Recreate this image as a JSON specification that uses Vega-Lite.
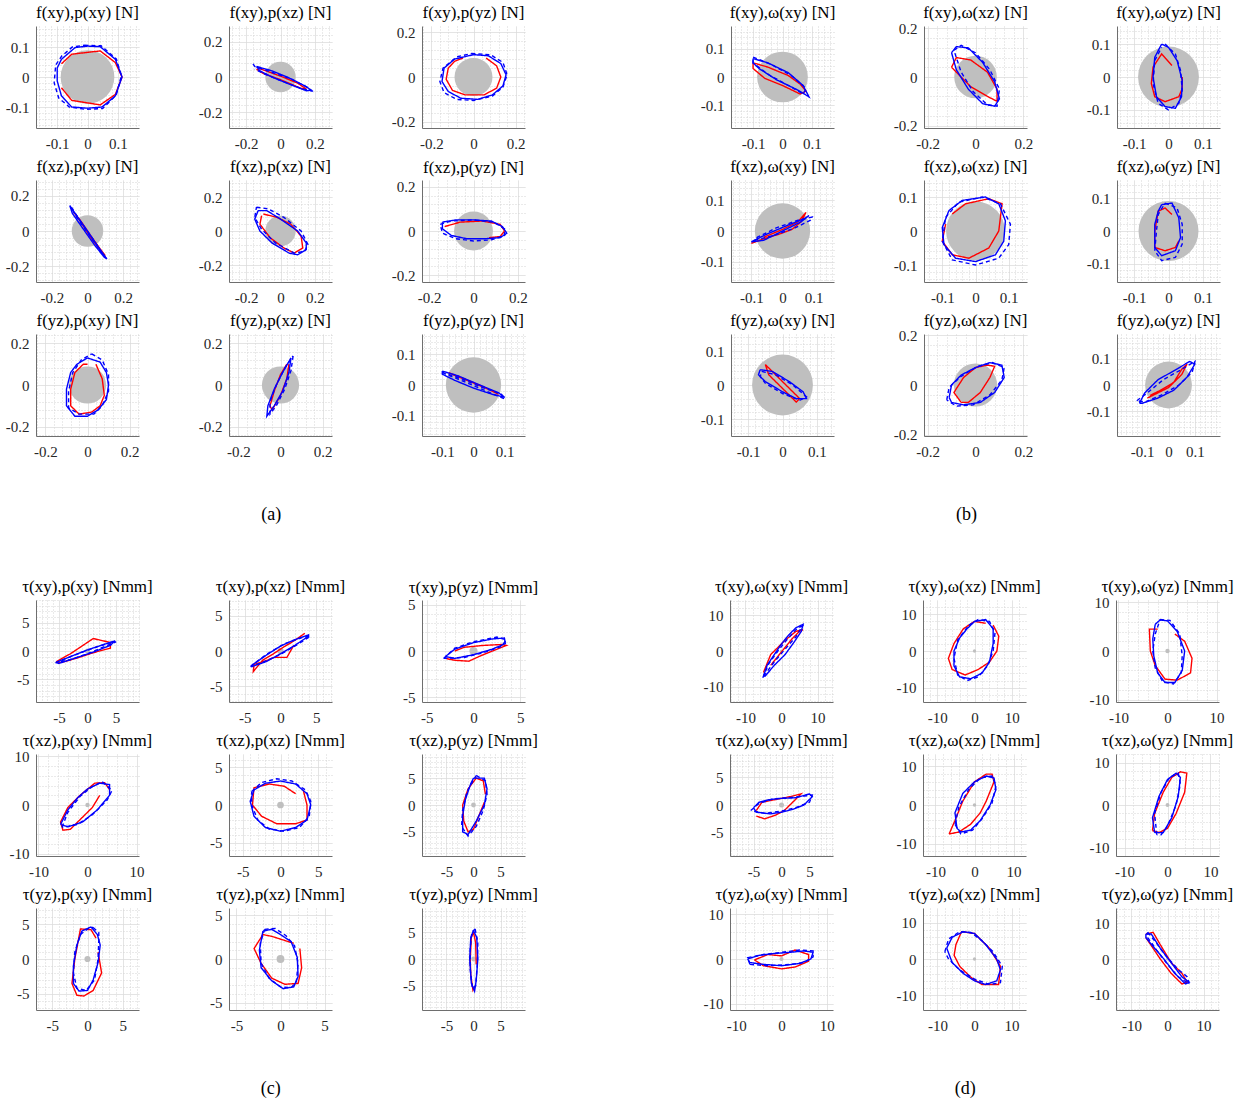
{
"$schema":"https://vega.github.io/schema/vega-lite/v6.json",
"background":"white",
"padding":{"left":5,"top":4,"right":5,"bottom":5},
"config":{
 "view":{"stroke":null,"continuousWidth":103,"continuousHeight":102},
 "font":"Liberation Serif",
 "title":{"font":"Liberation Serif","fontSize":17,"fontWeight":"normal","color":"#000000","offset":4},
 "axis":{"domainColor":"#6e6e6e","domainWidth":1,"ticks":false,"labelFont":"Liberation Serif","labelColor":"#262626","labelOverlap":false,"labelFlush":false,"labelBound":false,"grid":true,"gridWidth":1,
  "labelFontSize":{"condition":{"test":"indexof([-0.2,-0.1,0,0.1,0.2,-10,-5,5,10],datum.value)>=0","value":15},"value":0},
  "gridColor":{"condition":{"test":"indexof([-0.2,-0.1,0,0.1,0.2,-10,-5,5,10],datum.value)>=0","value":"#dadada"},"value":"#d4d4d4"},
  "gridDash":{"condition":{"test":"indexof([-0.2,-0.1,0,0.1,0.2,-10,-5,5,10],datum.value)>=0","value":[1,0]},"value":[1,2]},
  "labelExpr":"indexof([-0.2,-0.1,0,0.1,0.2,-10,-5,5,10],datum.value)>=0?''+datum.value:''"},
 "axisX":{"labelPadding":8},
 "axisY":{"labelPadding":7},
 "range":{"category":["#0000ff","#0000ff","#ff0000"]},
 "line":{"strokeWidth":1.4},
 "point":{"filled":true,"color":"#bfbfbf","opacity":1,"strokeWidth":0}
},
"datasets":{
"a11":[{"k":"r","x":-0.086,"y":0.044},{"k":"r","x":-0.052,"y":0.076},{"k":"r","x":0.042,"y":0.087},{"k":"r","x":0.092,"y":0.048},{"k":"r","x":0.114,"y":0},{"k":"r","x":0.092,"y":-0.058},{"k":"r","x":0.042,"y":-0.093},{"k":"r","x":-0.052,"y":-0.078},{"k":"r","x":-0.086,"y":-0.036},
{"k":"b","x":0,"y":0.103},{"k":"b","x":0.042,"y":0.101},{"k":"b","x":0.092,"y":0.059},{"k":"b","x":0.114,"y":0},{"k":"b","x":0.092,"y":-0.063},{"k":"b","x":0.048,"y":-0.1},{"k":"b","x":0,"y":-0.104},{"k":"b","x":-0.052,"y":-0.1},{"k":"b","x":-0.086,"y":-0.063},{"k":"b","x":-0.1,"y":-0.013},{"k":"b","x":-0.1,"y":0.03},{"k":"b","x":-0.086,"y":0.059},{"k":"b","x":-0.041,"y":0.098},{"k":"b","x":0,"y":0.103},
{"k":"d","x":-0.01,"y":0.106},{"k":"d","x":0.045,"y":0.104},{"k":"d","x":0.095,"y":0.06},{"k":"d","x":0.112,"y":0.005},{"k":"d","x":0.095,"y":-0.06},{"k":"d","x":0.05,"y":-0.105},{"k":"d","x":-0.005,"y":-0.108},{"k":"d","x":-0.06,"y":-0.1},{"k":"d","x":-0.095,"y":-0.07},{"k":"d","x":-0.11,"y":-0.02},{"k":"d","x":-0.105,"y":0.04},{"k":"d","x":-0.085,"y":0.07},{"k":"d","x":-0.05,"y":0.1},{"k":"d","x":-0.01,"y":0.106}],
"a12":[{"k":"r","x":-0.14,"y":0.045},{"k":"r","x":-0.1,"y":0.02},{"k":"r","x":0,"y":-0.015},{"k":"r","x":0.12,"y":-0.065},{"k":"r","x":0.15,"y":-0.068},{"k":"r","x":0.1,"y":-0.035},{"k":"r","x":0,"y":0.005},{"k":"r","x":-0.1,"y":0.04},{"k":"r","x":-0.13,"y":0.05},
{"k":"b","x":-0.14,"y":0.06},{"k":"b","x":-0.05,"y":0.035},{"k":"b","x":0.05,"y":-0.005},{"k":"b","x":0.14,"y":-0.05},{"k":"b","x":0.18,"y":-0.075},{"k":"b","x":0.15,"y":-0.078},{"k":"b","x":0.05,"y":-0.04},{"k":"b","x":-0.05,"y":0},{"k":"b","x":-0.12,"y":0.035},{"k":"b","x":-0.14,"y":0.06},
{"k":"d","x":-0.16,"y":0.075},{"k":"d","x":-0.15,"y":0.06},{"k":"d","x":-0.06,"y":0.03},{"k":"d","x":0.06,"y":-0.01},{"k":"d","x":0.16,"y":-0.06},{"k":"d","x":0.18,"y":-0.08},{"k":"d","x":0.12,"y":-0.065},{"k":"d","x":0,"y":-0.02},{"k":"d","x":-0.1,"y":0.02},{"k":"d","x":-0.15,"y":0.045}],
"a13":[{"k":"r","x":-0.05,"y":0.085},{"k":"r","x":-0.09,"y":0.07},{"k":"r","x":-0.12,"y":0.04},{"k":"r","x":-0.13,"y":-0.01},{"k":"r","x":-0.1,"y":-0.06},{"k":"r","x":-0.04,"y":-0.08},{"k":"r","x":0.05,"y":-0.08},{"k":"r","x":0.11,"y":-0.05},{"k":"r","x":0.13,"y":0},{"k":"r","x":0.11,"y":0.05},{"k":"r","x":0.06,"y":0.085},
{"k":"b","x":0,"y":0.1},{"k":"b","x":0.07,"y":0.095},{"k":"b","x":0.13,"y":0.06},{"k":"b","x":0.155,"y":0.01},{"k":"b","x":0.14,"y":-0.04},{"k":"b","x":0.09,"y":-0.08},{"k":"b","x":0.02,"y":-0.1},{"k":"b","x":-0.06,"y":-0.095},{"k":"b","x":-0.12,"y":-0.065},{"k":"b","x":-0.15,"y":-0.02},{"k":"b","x":-0.14,"y":0.04},{"k":"b","x":-0.09,"y":0.08},{"k":"b","x":0,"y":0.1},
{"k":"d","x":-0.01,"y":0.105},{"k":"d","x":0.08,"y":0.1},{"k":"d","x":0.14,"y":0.065},{"k":"d","x":0.16,"y":0.01},{"k":"d","x":0.14,"y":-0.045},{"k":"d","x":0.09,"y":-0.085},{"k":"d","x":0,"y":-0.105},{"k":"d","x":-0.08,"y":-0.1},{"k":"d","x":-0.14,"y":-0.07},{"k":"d","x":-0.16,"y":-0.02},{"k":"d","x":-0.145,"y":0.04},{"k":"d","x":-0.08,"y":0.09},{"k":"d","x":-0.01,"y":0.105}],
"a21":[{"k":"r","x":-0.08,"y":0.11},{"k":"r","x":-0.04,"y":0.06},{"k":"r","x":0.02,"y":-0.03},{"k":"r","x":0.07,"y":-0.1},{"k":"r","x":0.1,"y":-0.14},{"k":"r","x":0.08,"y":-0.12},{"k":"r","x":0.02,"y":-0.04},{"k":"r","x":-0.05,"y":0.07},{"k":"r","x":-0.08,"y":0.11},
{"k":"b","x":-0.1,"y":0.145},{"k":"b","x":-0.07,"y":0.1},{"k":"b","x":0,"y":0},{"k":"b","x":0.06,"y":-0.09},{"k":"b","x":0.105,"y":-0.155},{"k":"b","x":0.095,"y":-0.15},{"k":"b","x":0.04,"y":-0.08},{"k":"b","x":-0.03,"y":0.02},{"k":"b","x":-0.085,"y":0.1},{"k":"b","x":-0.1,"y":0.145},
{"k":"d","x":-0.09,"y":0.135},{"k":"d","x":-0.05,"y":0.07},{"k":"d","x":0.02,"y":-0.03},{"k":"d","x":0.08,"y":-0.12},{"k":"d","x":0.11,"y":-0.16},{"k":"d","x":0.08,"y":-0.12},{"k":"d","x":0,"y":-0.01},{"k":"d","x":-0.07,"y":0.09},{"k":"d","x":-0.09,"y":0.135}],
"a22":[{"k":"r","x":-0.1,"y":0.1},{"k":"r","x":-0.02,"y":0.08},{"k":"r","x":0.06,"y":0.04},{"k":"r","x":0.12,"y":-0.03},{"k":"r","x":0.13,"y":-0.1},{"k":"r","x":0.08,"y":-0.13},{"k":"r","x":0.02,"y":-0.1},{"k":"r","x":-0.06,"y":-0.04},{"k":"r","x":-0.12,"y":0.04},{"k":"r","x":-0.11,"y":0.09},
{"k":"b","x":-0.13,"y":0.12},{"k":"b","x":-0.08,"y":0.12},{"k":"b","x":0,"y":0.07},{"k":"b","x":0.1,"y":0},{"k":"b","x":0.15,"y":-0.07},{"k":"b","x":0.15,"y":-0.11},{"k":"b","x":0.1,"y":-0.14},{"k":"b","x":0.05,"y":-0.13},{"k":"b","x":-0.05,"y":-0.07},{"k":"b","x":-0.12,"y":0},{"k":"b","x":-0.15,"y":0.07},{"k":"b","x":-0.13,"y":0.12},
{"k":"d","x":-0.14,"y":0.14},{"k":"d","x":-0.07,"y":0.13},{"k":"d","x":0.02,"y":0.08},{"k":"d","x":0.12,"y":0},{"k":"d","x":0.16,"y":-0.08},{"k":"d","x":0.14,"y":-0.12},{"k":"d","x":0.08,"y":-0.13},{"k":"d","x":-0.03,"y":-0.07},{"k":"d","x":-0.11,"y":0.01},{"k":"d","x":-0.15,"y":0.08},{"k":"d","x":-0.14,"y":0.14}],
"a23":[{"k":"r","x":-0.13,"y":0.02},{"k":"r","x":-0.06,"y":0.04},{"k":"r","x":0.04,"y":0.045},{"k":"r","x":0.12,"y":0.03},{"k":"r","x":0.14,"y":0},{"k":"r","x":0.12,"y":-0.025},{"k":"r","x":0.07,"y":-0.03},
{"k":"b","x":-0.14,"y":0.04},{"k":"b","x":-0.08,"y":0.05},{"k":"b","x":0,"y":0.05},{"k":"b","x":0.08,"y":0.045},{"k":"b","x":0.13,"y":0.02},{"k":"b","x":0.15,"y":-0.01},{"k":"b","x":0.12,"y":-0.03},{"k":"b","x":0.05,"y":-0.035},{"k":"b","x":-0.03,"y":-0.035},{"k":"b","x":-0.1,"y":-0.02},{"k":"b","x":-0.14,"y":0.01},{"k":"b","x":-0.14,"y":0.04},
{"k":"d","x":-0.15,"y":0.03},{"k":"d","x":-0.1,"y":0.045},{"k":"d","x":0,"y":0.05},{"k":"d","x":0.09,"y":0.04},{"k":"d","x":0.14,"y":0.01},{"k":"d","x":0.14,"y":-0.02},{"k":"d","x":0.08,"y":-0.04},{"k":"d","x":0,"y":-0.045},{"k":"d","x":-0.08,"y":-0.035},{"k":"d","x":-0.14,"y":-0.01},{"k":"d","x":-0.15,"y":0.03}],
"a31":[{"k":"r","x":0.04,"y":0.1},{"k":"r","x":0.07,"y":0.03},{"k":"r","x":0.08,"y":-0.05},{"k":"r","x":0.06,"y":-0.1},{"k":"r","x":0.02,"y":-0.13},{"k":"r","x":-0.04,"y":-0.14},{"k":"r","x":-0.08,"y":-0.1},{"k":"r","x":-0.08,"y":-0.02},{"k":"r","x":-0.06,"y":0.06},{"k":"r","x":-0.02,"y":0.1},{"k":"r","x":0,"y":0.1},
{"k":"b","x":0,"y":0.13},{"k":"b","x":0.06,"y":0.11},{"k":"b","x":0.09,"y":0.06},{"k":"b","x":0.1,"y":0},{"k":"b","x":0.09,"y":-0.07},{"k":"b","x":0.05,"y":-0.12},{"k":"b","x":0,"y":-0.15},{"k":"b","x":-0.06,"y":-0.15},{"k":"b","x":-0.1,"y":-0.1},{"k":"b","x":-0.1,"y":-0.02},{"k":"b","x":-0.08,"y":0.06},{"k":"b","x":-0.05,"y":0.1},{"k":"b","x":0,"y":0.13},
{"k":"d","x":0.02,"y":0.15},{"k":"d","x":0.07,"y":0.12},{"k":"d","x":0.1,"y":0.05},{"k":"d","x":0.1,"y":-0.03},{"k":"d","x":0.07,"y":-0.1},{"k":"d","x":0.03,"y":-0.14},{"k":"d","x":-0.04,"y":-0.14},{"k":"d","x":-0.09,"y":-0.11},{"k":"d","x":-0.09,"y":-0.03},{"k":"d","x":-0.07,"y":0.06},{"k":"d","x":-0.03,"y":0.12},{"k":"d","x":0.02,"y":0.15}],
"a32":[{"k":"r","x":0.04,"y":0.1},{"k":"r","x":0.03,"y":0.03},{"k":"r","x":0,"y":-0.05},{"k":"r","x":-0.04,"y":-0.12},{"k":"r","x":-0.05,"y":-0.1},{"k":"r","x":-0.03,"y":-0.03},{"k":"r","x":0,"y":0.05},{"k":"r","x":0.03,"y":0.1},
{"k":"b","x":0.05,"y":0.13},{"k":"b","x":0.04,"y":0.06},{"k":"b","x":0.01,"y":-0.03},{"k":"b","x":-0.03,"y":-0.1},{"k":"b","x":-0.065,"y":-0.15},{"k":"b","x":-0.06,"y":-0.1},{"k":"b","x":-0.03,"y":-0.02},{"k":"b","x":0.01,"y":0.06},{"k":"b","x":0.05,"y":0.13},
{"k":"d","x":0.06,"y":0.14},{"k":"d","x":0.05,"y":0.07},{"k":"d","x":0.02,"y":-0.02},{"k":"d","x":-0.02,"y":-0.1},{"k":"d","x":-0.05,"y":-0.14},{"k":"d","x":-0.05,"y":-0.08},{"k":"d","x":-0.02,"y":0},{"k":"d","x":0.02,"y":0.08},{"k":"d","x":0.06,"y":0.14}],
"a33":[{"k":"r","x":-0.08,"y":0.04},{"k":"r","x":-0.03,"y":0.02},{"k":"r","x":0.03,"y":-0.005},{"k":"r","x":0.08,"y":-0.03},{"k":"r","x":0.05,"y":-0.015},{"k":"r","x":-0.02,"y":0.015},{"k":"r","x":-0.07,"y":0.035},
{"k":"b","x":-0.1,"y":0.045},{"k":"b","x":-0.05,"y":0.03},{"k":"b","x":0.02,"y":0},{"k":"b","x":0.08,"y":-0.025},{"k":"b","x":0.1,"y":-0.04},{"k":"b","x":0.06,"y":-0.03},{"k":"b","x":0,"y":-0.01},{"k":"b","x":-0.06,"y":0.015},{"k":"b","x":-0.1,"y":0.035},{"k":"b","x":-0.1,"y":0.045},
{"k":"d","x":-0.1,"y":0.04},{"k":"d","x":-0.04,"y":0.015},{"k":"d","x":0.03,"y":-0.015},{"k":"d","x":0.1,"y":-0.045},{"k":"d","x":0.09,"y":-0.03},{"k":"d","x":0.02,"y":-0.005},{"k":"d","x":-0.05,"y":0.025},{"k":"d","x":-0.1,"y":0.04}],
"b11":[{"k":"r","x":-0.1,"y":0.05},{"k":"r","x":-0.05,"y":0.035},{"k":"r","x":0.02,"y":0.005},{"k":"r","x":0.06,"y":-0.025},{"k":"r","x":0.08,"y":-0.05},{"k":"r","x":0.06,"y":-0.06},{"k":"r","x":0,"y":-0.03},{"k":"r","x":-0.06,"y":-0.005},{"k":"r","x":-0.1,"y":0.03},{"k":"r","x":-0.1,"y":0.05},
{"k":"b","x":-0.1,"y":0.065},{"k":"b","x":-0.05,"y":0.05},{"k":"b","x":0.02,"y":0.015},{"k":"b","x":0.07,"y":-0.03},{"k":"b","x":0.09,"y":-0.07},{"k":"b","x":0.05,"y":-0.045},{"k":"b","x":-0.02,"y":-0.01},{"k":"b","x":-0.08,"y":0.03},{"k":"b","x":-0.1,"y":0.05},{"k":"b","x":-0.1,"y":0.065},
{"k":"d","x":-0.1,"y":0.07},{"k":"d","x":-0.04,"y":0.045},{"k":"d","x":0.03,"y":0.005},{"k":"d","x":0.08,"y":-0.04},{"k":"d","x":0.07,"y":-0.06},{"k":"d","x":0.02,"y":-0.03},{"k":"d","x":-0.05,"y":0.01},{"k":"d","x":-0.1,"y":0.05},{"k":"d","x":-0.1,"y":0.07}],
"b12":[{"k":"r","x":-0.1,"y":0.04},{"k":"r","x":-0.08,"y":0.08},{"k":"r","x":-0.02,"y":0.07},{"k":"r","x":0.05,"y":0.02},{"k":"r","x":0.09,"y":-0.05},{"k":"r","x":0.09,"y":-0.1},{"k":"r","x":0.05,"y":-0.08},{"k":"r","x":-0.02,"y":-0.04},{"k":"r","x":-0.07,"y":0.01},{"k":"r","x":-0.1,"y":0.04},
{"k":"b","x":-0.1,"y":0.1},{"k":"b","x":-0.08,"y":0.125},{"k":"b","x":-0.03,"y":0.12},{"k":"b","x":0.03,"y":0.06},{"k":"b","x":0.08,"y":-0.02},{"k":"b","x":0.1,"y":-0.09},{"k":"b","x":0.08,"y":-0.12},{"k":"b","x":0.03,"y":-0.11},{"k":"b","x":-0.03,"y":-0.05},{"k":"b","x":-0.08,"y":0.03},{"k":"b","x":-0.1,"y":0.1},
{"k":"d","x":-0.09,"y":0.11},{"k":"d","x":-0.06,"y":0.13},{"k":"d","x":0,"y":0.1},{"k":"d","x":0.06,"y":0.03},{"k":"d","x":0.1,"y":-0.05},{"k":"d","x":0.09,"y":-0.12},{"k":"d","x":0.05,"y":-0.115},{"k":"d","x":-0.01,"y":-0.06},{"k":"d","x":-0.06,"y":0.02},{"k":"d","x":-0.09,"y":0.11}],
"b13":[{"k":"r","x":0.01,"y":0.035},{"k":"r","x":-0.02,"y":0.07},{"k":"r","x":-0.045,"y":0.03},{"k":"r","x":-0.05,"y":-0.02},{"k":"r","x":-0.04,"y":-0.06},{"k":"r","x":-0.01,"y":-0.075},{"k":"r","x":0.03,"y":-0.06},{"k":"r","x":0.04,"y":-0.035},{"k":"r","x":0.04,"y":0},
{"k":"b","x":-0.02,"y":0.1},{"k":"b","x":-0.04,"y":0.06},{"k":"b","x":-0.045,"y":0},{"k":"b","x":-0.035,"y":-0.06},{"k":"b","x":-0.01,"y":-0.09},{"k":"b","x":0.02,"y":-0.095},{"k":"b","x":0.038,"y":-0.06},{"k":"b","x":0.04,"y":-0.01},{"k":"b","x":0.025,"y":0.05},{"k":"b","x":0,"y":0.09},{"k":"b","x":-0.02,"y":0.1},
{"k":"d","x":-0.01,"y":0.1},{"k":"d","x":0.02,"y":0.07},{"k":"d","x":0.035,"y":0.02},{"k":"d","x":0.04,"y":-0.04},{"k":"d","x":0.03,"y":-0.08},{"k":"d","x":0,"y":-0.1},{"k":"d","x":-0.03,"y":-0.08},{"k":"d","x":-0.045,"y":-0.02},{"k":"d","x":-0.04,"y":0.05},{"k":"d","x":-0.02,"y":0.09}],
"b21":[{"k":"r","x":-0.1,"y":-0.04},{"k":"r","x":-0.06,"y":-0.025},{"k":"r","x":-0.01,"y":-0.01},{"k":"r","x":0.03,"y":0.005},{"k":"r","x":0.06,"y":0.03},{"k":"r","x":0.075,"y":0.06},{"k":"r","x":0.05,"y":0.03},{"k":"r","x":0,"y":0.005},{"k":"r","x":-0.06,"y":-0.02},
{"k":"b","x":-0.1,"y":-0.035},{"k":"b","x":-0.05,"y":-0.01},{"k":"b","x":0.02,"y":0.02},{"k":"b","x":0.07,"y":0.04},{"k":"b","x":0.085,"y":0.05},{"k":"b","x":0.06,"y":0.03},{"k":"b","x":0,"y":0},{"k":"b","x":-0.06,"y":-0.03},{"k":"b","x":-0.1,"y":-0.035},
{"k":"d","x":-0.09,"y":-0.03},{"k":"d","x":-0.03,"y":-0.015},{"k":"d","x":0.04,"y":0.01},{"k":"d","x":0.09,"y":0.035},{"k":"d","x":0.095,"y":0.045},{"k":"d","x":0.05,"y":0.035},{"k":"d","x":-0.02,"y":0.01},{"k":"d","x":-0.08,"y":-0.02},{"k":"d","x":-0.09,"y":-0.03}],
"b22":[{"k":"r","x":-0.07,"y":0.05},{"k":"r","x":-0.03,"y":0.08},{"k":"r","x":0.04,"y":0.095},{"k":"r","x":0.08,"y":0.08},{"k":"r","x":0.07,"y":0},{"k":"r","x":0.04,"y":-0.05},{"k":"r","x":-0.02,"y":-0.08},{"k":"r","x":-0.07,"y":-0.07},{"k":"r","x":-0.1,"y":-0.03},{"k":"r","x":-0.09,"y":0.02},
{"k":"b","x":-0.08,"y":0.06},{"k":"b","x":-0.04,"y":0.09},{"k":"b","x":0.03,"y":0.1},{"k":"b","x":0.07,"y":0.08},{"k":"b","x":0.09,"y":0.03},{"k":"b","x":0.085,"y":-0.03},{"k":"b","x":0.06,"y":-0.07},{"k":"b","x":0,"y":-0.09},{"k":"b","x":-0.06,"y":-0.08},{"k":"b","x":-0.095,"y":-0.04},{"k":"b","x":-0.1,"y":0.01},{"k":"b","x":-0.08,"y":0.06},
{"k":"d","x":-0.09,"y":0.04},{"k":"d","x":-0.05,"y":0.085},{"k":"d","x":0.02,"y":0.1},{"k":"d","x":0.075,"y":0.08},{"k":"d","x":0.105,"y":0.02},{"k":"d","x":0.1,"y":-0.04},{"k":"d","x":0.07,"y":-0.08},{"k":"d","x":0,"y":-0.1},{"k":"d","x":-0.07,"y":-0.085},{"k":"d","x":-0.1,"y":-0.03},{"k":"d","x":-0.09,"y":0.04}],
"b23":[{"k":"r","x":0.01,"y":0.05},{"k":"r","x":-0.01,"y":0.07},{"k":"r","x":-0.03,"y":0.06},{"k":"r","x":-0.04,"y":0},{"k":"r","x":-0.04,"y":-0.05},{"k":"r","x":-0.01,"y":-0.06},{"k":"r","x":0.02,"y":-0.05},{"k":"r","x":0.03,"y":-0.03},
{"k":"b","x":-0.02,"y":0.08},{"k":"b","x":0.01,"y":0.085},{"k":"b","x":0.03,"y":0.04},{"k":"b","x":0.035,"y":-0.02},{"k":"b","x":0.02,"y":-0.06},{"k":"b","x":-0.02,"y":-0.075},{"k":"b","x":-0.04,"y":-0.05},{"k":"b","x":-0.04,"y":0.02},{"k":"b","x":-0.03,"y":0.06},{"k":"b","x":-0.02,"y":0.08},
{"k":"d","x":-0.01,"y":0.085},{"k":"d","x":0.025,"y":0.07},{"k":"d","x":0.04,"y":0.02},{"k":"d","x":0.04,"y":-0.04},{"k":"d","x":0.02,"y":-0.08},{"k":"d","x":-0.02,"y":-0.09},{"k":"d","x":-0.04,"y":-0.06},{"k":"d","x":-0.035,"y":0},{"k":"d","x":-0.03,"y":0.05},{"k":"d","x":-0.01,"y":0.085}],
"b31":[{"k":"r","x":-0.05,"y":0.06},{"k":"r","x":-0.03,"y":0.04},{"k":"r","x":0.01,"y":0},{"k":"r","x":0.05,"y":-0.04},{"k":"r","x":0.04,"y":-0.05},{"k":"r","x":0,"y":-0.01},{"k":"r","x":-0.04,"y":0.03},{"k":"r","x":-0.05,"y":0.06},
{"k":"b","x":-0.065,"y":0.045},{"k":"b","x":-0.03,"y":0.04},{"k":"b","x":0.02,"y":0.01},{"k":"b","x":0.06,"y":-0.02},{"k":"b","x":0.07,"y":-0.04},{"k":"b","x":0.04,"y":-0.04},{"k":"b","x":0,"y":-0.02},{"k":"b","x":-0.05,"y":0.01},{"k":"b","x":-0.07,"y":0.03},{"k":"b","x":-0.065,"y":0.045},
{"k":"d","x":-0.06,"y":0.04},{"k":"d","x":-0.02,"y":0.03},{"k":"d","x":0.03,"y":0},{"k":"d","x":0.07,"y":-0.035},{"k":"d","x":0.05,"y":-0.045},{"k":"d","x":0,"y":-0.025},{"k":"d","x":-0.05,"y":0.005},{"k":"d","x":-0.065,"y":0.025},{"k":"d","x":-0.06,"y":0.04}],
"b32":[{"k":"r","x":-0.06,"y":-0.07},{"k":"r","x":-0.09,"y":-0.03},{"k":"r","x":-0.05,"y":0.03},{"k":"r","x":0,"y":0.07},{"k":"r","x":0.05,"y":0.08},{"k":"r","x":0.08,"y":0.075},{"k":"r","x":0.06,"y":0.03},{"k":"r","x":0.02,"y":-0.03},{"k":"r","x":-0.03,"y":-0.07},{"k":"r","x":-0.06,"y":-0.07},
{"k":"b","x":-0.11,"y":-0.05},{"k":"b","x":-0.1,"y":0},{"k":"b","x":-0.06,"y":0.04},{"k":"b","x":0,"y":0.07},{"k":"b","x":0.06,"y":0.09},{"k":"b","x":0.11,"y":0.08},{"k":"b","x":0.12,"y":0.03},{"k":"b","x":0.08,"y":-0.03},{"k":"b","x":0.02,"y":-0.07},{"k":"b","x":-0.05,"y":-0.08},{"k":"b","x":-0.1,"y":-0.07},{"k":"b","x":-0.11,"y":-0.05},
{"k":"d","x":-0.12,"y":-0.06},{"k":"d","x":-0.11,"y":-0.01},{"k":"d","x":-0.06,"y":0.035},{"k":"d","x":0.01,"y":0.075},{"k":"d","x":0.07,"y":0.09},{"k":"d","x":0.12,"y":0.07},{"k":"d","x":0.11,"y":0.02},{"k":"d","x":0.06,"y":-0.04},{"k":"d","x":-0.01,"y":-0.08},{"k":"d","x":-0.08,"y":-0.085},{"k":"d","x":-0.12,"y":-0.06}],
"b33":[{"k":"r","x":-0.07,"y":-0.04},{"k":"r","x":-0.03,"y":-0.02},{"k":"r","x":0.02,"y":0.01},{"k":"r","x":0.05,"y":0.06},{"k":"r","x":0.07,"y":0.08},{"k":"r","x":0.05,"y":0.04},{"k":"r","x":0,"y":-0.01},{"k":"r","x":-0.05,"y":-0.035},{"k":"r","x":-0.08,"y":-0.05},
{"k":"b","x":-0.11,"y":-0.07},{"k":"b","x":-0.09,"y":-0.03},{"k":"b","x":-0.04,"y":0.02},{"k":"b","x":0.03,"y":0.06},{"k":"b","x":0.08,"y":0.09},{"k":"b","x":0.1,"y":0.08},{"k":"b","x":0.07,"y":0.03},{"k":"b","x":0.02,"y":-0.02},{"k":"b","x":-0.04,"y":-0.05},{"k":"b","x":-0.1,"y":-0.07},{"k":"b","x":-0.11,"y":-0.07},
{"k":"d","x":-0.12,"y":-0.06},{"k":"d","x":-0.08,"y":-0.03},{"k":"d","x":-0.02,"y":0.02},{"k":"d","x":0.05,"y":0.06},{"k":"d","x":0.1,"y":0.09},{"k":"d","x":0.09,"y":0.05},{"k":"d","x":0.04,"y":0},{"k":"d","x":-0.03,"y":-0.04},{"k":"d","x":-0.09,"y":-0.065},{"k":"d","x":-0.12,"y":-0.06}],
"c11":[{"k":"r","x":-5.5,"y":-1.9},{"k":"r","x":-3,"y":-0.5},{"k":"r","x":1,"y":2.2},{"k":"r","x":4,"y":1.5},{"k":"r","x":4,"y":0.5},{"k":"r","x":1,"y":-0.3},{"k":"r","x":-2,"y":-1.3},{"k":"r","x":-4.5,"y":-2},{"k":"r","x":-5.5,"y":-2},
{"k":"b","x":-5.5,"y":-2},{"k":"b","x":-3,"y":-1},{"k":"b","x":0,"y":0.2},{"k":"b","x":3,"y":1.2},{"k":"b","x":4.8,"y":1.8},{"k":"b","x":4,"y":1},{"k":"b","x":1,"y":-0.2},{"k":"b","x":-2,"y":-1.2},{"k":"b","x":-5,"y":-2.2},{"k":"b","x":-5.5,"y":-2},
{"k":"d","x":-5.6,"y":-2.1},{"k":"d","x":-2.5,"y":-0.8},{"k":"d","x":1,"y":0.5},{"k":"d","x":4,"y":1.5},{"k":"d","x":5,"y":1.6},{"k":"d","x":3,"y":0.8},{"k":"d","x":0,"y":-0.5},{"k":"d","x":-3,"y":-1.5},{"k":"d","x":-5.6,"y":-2.1}],
"c12":[{"k":"r","x":3.4,"y":2.5},{"k":"r","x":2,"y":1.5},{"k":"r","x":0.5,"y":0.6},{"k":"r","x":-1,"y":-0.4},{"k":"r","x":-2.5,"y":-1.3},{"k":"r","x":-3.8,"y":-2.9},{"k":"r","x":-3.7,"y":-1.9},{"k":"r","x":-1.8,"y":-1.3},{"k":"r","x":-0.9,"y":-0.9},{"k":"r","x":0.9,"y":-0.9},{"k":"r","x":1.85,"y":0.8},
{"k":"b","x":-4,"y":-2},{"k":"b","x":-2,"y":-0.6},{"k":"b","x":0,"y":0.7},{"k":"b","x":2,"y":1.6},{"k":"b","x":4,"y":2.3},{"k":"b","x":3.5,"y":1.8},{"k":"b","x":2,"y":0.8},{"k":"b","x":0,"y":-0.4},{"k":"b","x":-2,"y":-1.5},{"k":"b","x":-4,"y":-2.2},{"k":"b","x":-4,"y":-2},
{"k":"d","x":-4.2,"y":-2.2},{"k":"d","x":-2,"y":-0.5},{"k":"d","x":0.5,"y":1},{"k":"d","x":3,"y":1.9},{"k":"d","x":4.2,"y":2.1},{"k":"d","x":2.5,"y":1},{"k":"d","x":0,"y":-0.5},{"k":"d","x":-2.5,"y":-1.6},{"k":"d","x":-4.2,"y":-2.2}],
"c13":[{"k":"r","x":-3,"y":-0.8},{"k":"r","x":-2,"y":-1},{"k":"r","x":-0.5,"y":-1.1},{"k":"r","x":0.8,"y":-0.5},{"k":"r","x":3.5,"y":0.6},{"k":"r","x":3,"y":0.7},{"k":"r","x":1,"y":0.6},{"k":"r","x":-1,"y":0.4},{"k":"r","x":-2,"y":0},
{"k":"b","x":-3,"y":-0.6},{"k":"b","x":-2,"y":0.2},{"k":"b","x":0,"y":0.9},{"k":"b","x":2,"y":1.3},{"k":"b","x":3.3,"y":1.4},{"k":"b","x":3.4,"y":0.8},{"k":"b","x":2,"y":0.2},{"k":"b","x":0,"y":-0.4},{"k":"b","x":-2,"y":-0.8},{"k":"b","x":-3,"y":-0.6},
{"k":"d","x":-3.2,"y":-0.8},{"k":"d","x":-2,"y":0.3},{"k":"d","x":0,"y":1},{"k":"d","x":2.5,"y":1.5},{"k":"d","x":3.5,"y":1.2},{"k":"d","x":3,"y":0.5},{"k":"d","x":1,"y":-0.2},{"k":"d","x":-1,"y":-0.7},{"k":"d","x":-3.2,"y":-0.8}],
"c21":[{"k":"r","x":2.5,"y":2},{"k":"r","x":1,"y":-0.5},{"k":"r","x":-1,"y":-2.5},{"k":"r","x":-3.5,"y":-5},{"k":"r","x":-5,"y":-5.2},{"k":"r","x":-5.5,"y":-3.5},{"k":"r","x":-4,"y":-0.5},{"k":"r","x":-1.5,"y":2},{"k":"r","x":1.5,"y":4.5},{"k":"r","x":3.5,"y":4.6},{"k":"r","x":4.5,"y":3.2},
{"k":"b","x":-5.5,"y":-4},{"k":"b","x":-4,"y":-1},{"k":"b","x":-2,"y":1.5},{"k":"b","x":0,"y":3.3},{"k":"b","x":2.5,"y":4.5},{"k":"b","x":4.5,"y":4.2},{"k":"b","x":4.5,"y":2},{"k":"b","x":2,"y":-1},{"k":"b","x":-1,"y":-3.5},{"k":"b","x":-4,"y":-4.5},{"k":"b","x":-5.5,"y":-4},
{"k":"d","x":-5.2,"y":-4.6},{"k":"d","x":-4,"y":-1.5},{"k":"d","x":-1.5,"y":1.8},{"k":"d","x":1,"y":3.8},{"k":"d","x":3,"y":4.8},{"k":"d","x":5,"y":3},{"k":"d","x":4,"y":1},{"k":"d","x":1,"y":-2},{"k":"d","x":-2,"y":-4},{"k":"d","x":-5.2,"y":-4.6}],
"c22":[{"k":"r","x":2,"y":1.5},{"k":"r","x":0.5,"y":2.5},{"k":"r","x":-1.5,"y":2.8},{"k":"r","x":-3.5,"y":2.3},{"k":"r","x":-3.7,"y":0},{"k":"r","x":-2.5,"y":-1.5},{"k":"r","x":-0.5,"y":-2.5},{"k":"r","x":2,"y":-2.5},{"k":"r","x":3.5,"y":-2},{"k":"r","x":3.5,"y":0},{"k":"r","x":3,"y":2},
{"k":"b","x":-3.5,"y":2},{"k":"b","x":-2,"y":2.9},{"k":"b","x":0,"y":3.2},{"k":"b","x":2,"y":2.8},{"k":"b","x":3.5,"y":1.5},{"k":"b","x":4,"y":0},{"k":"b","x":3.5,"y":-2},{"k":"b","x":2,"y":-3},{"k":"b","x":0,"y":-3.5},{"k":"b","x":-2,"y":-3},{"k":"b","x":-3.5,"y":-1.5},{"k":"b","x":-4,"y":0.5},{"k":"b","x":-3.5,"y":2},
{"k":"d","x":-3.8,"y":1.8},{"k":"d","x":-2.5,"y":3},{"k":"d","x":-0.5,"y":3.5},{"k":"d","x":1.5,"y":3.2},{"k":"d","x":3.3,"y":2},{"k":"d","x":4,"y":0.5},{"k":"d","x":3.8,"y":-1.5},{"k":"d","x":2.5,"y":-3},{"k":"d","x":0.5,"y":-3.5},{"k":"d","x":-1.5,"y":-3.2},{"k":"d","x":-3,"y":-2},{"k":"d","x":-3.8,"y":0},{"k":"d","x":-3.8,"y":1.8}],
"c23":[{"k":"r","x":2.2,"y":2},{"k":"r","x":1.8,"y":4.5},{"k":"r","x":0.5,"y":5},{"k":"r","x":-1,"y":3},{"k":"r","x":-2,"y":0},{"k":"r","x":-1.8,"y":-3},{"k":"r","x":-1,"y":-5},{"k":"r","x":0,"y":-4.5},{"k":"r","x":1,"y":-2},{"k":"r","x":2,"y":0.5},
{"k":"b","x":0,"y":5},{"k":"b","x":2,"y":5},{"k":"b","x":2.5,"y":3},{"k":"b","x":2,"y":0},{"k":"b","x":0.5,"y":-3},{"k":"b","x":-1,"y":-5.5},{"k":"b","x":-2,"y":-5},{"k":"b","x":-2,"y":-2},{"k":"b","x":-1.5,"y":1},{"k":"b","x":-0.5,"y":4},{"k":"b","x":0,"y":5},
{"k":"d","x":0.5,"y":5.5},{"k":"d","x":2.2,"y":4.5},{"k":"d","x":2.5,"y":2},{"k":"d","x":1.8,"y":-1},{"k":"d","x":0.5,"y":-4},{"k":"d","x":-1,"y":-5.8},{"k":"d","x":-2.2,"y":-4},{"k":"d","x":-2,"y":-1},{"k":"d","x":-1.2,"y":2.5},{"k":"d","x":0.5,"y":5.5}],
"c31":[{"k":"r","x":1.2,"y":3},{"k":"r","x":0.5,"y":4.2},{"k":"r","x":-1,"y":4.3},{"k":"r","x":-1.8,"y":0},{"k":"r","x":-2.2,"y":-3.5},{"k":"r","x":-1.5,"y":-5.2},{"k":"r","x":-0.5,"y":-5.3},{"k":"r","x":0.8,"y":-4.5},{"k":"r","x":2,"y":-2},{"k":"r","x":1.5,"y":1},
{"k":"b","x":0.5,"y":4.6},{"k":"b","x":-0.8,"y":4},{"k":"b","x":-1.5,"y":2},{"k":"b","x":-2,"y":-1},{"k":"b","x":-2,"y":-3.5},{"k":"b","x":-1.2,"y":-4.6},{"k":"b","x":0,"y":-4.5},{"k":"b","x":0.8,"y":-3},{"k":"b","x":1.5,"y":-0.5},{"k":"b","x":1.8,"y":2},{"k":"b","x":1.4,"y":3.5},{"k":"b","x":0.5,"y":4.6},
{"k":"d","x":0.8,"y":4.5},{"k":"d","x":1.6,"y":3.8},{"k":"d","x":1.6,"y":2.8},{"k":"d","x":1.5,"y":0},{"k":"d","x":1,"y":-3},{"k":"d","x":-0.2,"y":-4.5},{"k":"d","x":-1.5,"y":-4.2},{"k":"d","x":-2,"y":-2},{"k":"d","x":-1.8,"y":1},{"k":"d","x":-1,"y":3.5},{"k":"d","x":0.3,"y":4.5},{"k":"d","x":0.8,"y":4.5}],
"c32":[{"k":"r","x":2.2,"y":1.2},{"k":"r","x":2.4,"y":-1},{"k":"r","x":2,"y":-2.8},{"k":"r","x":0.5,"y":-2.9},{"k":"r","x":-1,"y":-2.2},{"k":"r","x":-2.2,"y":-0.5},{"k":"r","x":-3,"y":1.2},{"k":"r","x":-2,"y":2.8},{"k":"r","x":-1,"y":2.6},{"k":"r","x":1.5,"y":1.8},
{"k":"b","x":-2,"y":3.2},{"k":"b","x":-1,"y":3.4},{"k":"b","x":0,"y":2.8},{"k":"b","x":1.2,"y":2},{"k":"b","x":1.9,"y":0.2},{"k":"b","x":2,"y":-2},{"k":"b","x":1.5,"y":-3.2},{"k":"b","x":0.3,"y":-3.4},{"k":"b","x":-1,"y":-2.5},{"k":"b","x":-2.2,"y":-1},{"k":"b","x":-2.4,"y":1},{"k":"b","x":-2,"y":3.2},
{"k":"d","x":-1.8,"y":3.4},{"k":"d","x":-0.6,"y":3.5},{"k":"d","x":0.6,"y":2.7},{"k":"d","x":1.6,"y":1.5},{"k":"d","x":2,"y":-0.5},{"k":"d","x":1.8,"y":-2.6},{"k":"d","x":1.2,"y":-3.3},{"k":"d","x":0,"y":-3.2},{"k":"d","x":-1.3,"y":-2.2},{"k":"d","x":-2.2,"y":-0.5},{"k":"d","x":-2.3,"y":1.8},{"k":"d","x":-1.8,"y":3.4}],
"c33":[{"k":"r","x":0.5,"y":-1},{"k":"r","x":0.4,"y":3},{"k":"r","x":0,"y":5},{"k":"r","x":-0.4,"y":4},{"k":"r","x":-0.6,"y":0},{"k":"r","x":-0.5,"y":-3},{"k":"r","x":-0.1,"y":-5.8},{"k":"r","x":0.3,"y":-5},
{"k":"b","x":0,"y":5.3},{"k":"b","x":0.6,"y":4},{"k":"b","x":0.8,"y":0},{"k":"b","x":0.5,"y":-4},{"k":"b","x":0.2,"y":-6},{"k":"b","x":-0.4,"y":-4.5},{"k":"b","x":-0.7,"y":0},{"k":"b","x":-0.5,"y":4},{"k":"b","x":0,"y":5.3},
{"k":"d","x":0.3,"y":5.6},{"k":"d","x":0.8,"y":3},{"k":"d","x":0.7,"y":-1},{"k":"d","x":0.4,"y":-5},{"k":"d","x":-0.2,"y":-5.5},{"k":"d","x":-0.6,"y":-2},{"k":"d","x":-0.6,"y":2},{"k":"d","x":-0.3,"y":5},{"k":"d","x":0.3,"y":5.6}],
"d11":[{"k":"r","x":-5,"y":-6},{"k":"r","x":-3,"y":-1},{"k":"r","x":-1,"y":1},{"k":"r","x":1,"y":3},{"k":"r","x":4,"y":5.5},{"k":"r","x":6,"y":6},{"k":"r","x":5,"y":5.5},{"k":"r","x":3,"y":3.5},{"k":"r","x":1,"y":1},{"k":"r","x":-1,"y":-1.5},{"k":"r","x":-3,"y":-4},
{"k":"b","x":-5,"y":-7},{"k":"b","x":-4,"y":-4},{"k":"b","x":-2,"y":-1},{"k":"b","x":0,"y":2},{"k":"b","x":2,"y":4.5},{"k":"b","x":4,"y":6.5},{"k":"b","x":6,"y":7.5},{"k":"b","x":5.5,"y":5.5},{"k":"b","x":3.5,"y":2.5},{"k":"b","x":1,"y":-1},{"k":"b","x":-2,"y":-4},{"k":"b","x":-4.5,"y":-7},{"k":"b","x":-5,"y":-7},
{"k":"d","x":-5.2,"y":-7.5},{"k":"d","x":-3.5,"y":-3.5},{"k":"d","x":-1,"y":0},{"k":"d","x":2,"y":3.8},{"k":"d","x":4.5,"y":6.5},{"k":"d","x":5.8,"y":7},{"k":"d","x":4,"y":4},{"k":"d","x":1,"y":0.5},{"k":"d","x":-2,"y":-3},{"k":"d","x":-4.5,"y":-6.5},{"k":"d","x":-5.2,"y":-7.5}],
"d12":[{"k":"r","x":3,"y":7.5},{"k":"r","x":0,"y":8},{"k":"r","x":-3,"y":6},{"k":"r","x":-5.5,"y":2},{"k":"r","x":-7,"y":-2},{"k":"r","x":-6,"y":-5},{"k":"r","x":-2.5,"y":-6.5},{"k":"r","x":1,"y":-5},{"k":"r","x":4,"y":-3},{"k":"r","x":6,"y":0},{"k":"r","x":6.5,"y":4},{"k":"r","x":5,"y":7},
{"k":"b","x":-2,"y":6},{"k":"b","x":0,"y":8},{"k":"b","x":3,"y":8.5},{"k":"b","x":5,"y":6},{"k":"b","x":5,"y":2},{"k":"b","x":4,"y":-3},{"k":"b","x":2,"y":-6},{"k":"b","x":-1,"y":-7.5},{"k":"b","x":-4,"y":-7},{"k":"b","x":-5.5,"y":-4},{"k":"b","x":-5.5,"y":0},{"k":"b","x":-4,"y":3.5},{"k":"b","x":-2,"y":6},
{"k":"d","x":-1.5,"y":7},{"k":"d","x":1,"y":8.5},{"k":"d","x":4,"y":8},{"k":"d","x":5.5,"y":5},{"k":"d","x":5,"y":0},{"k":"d","x":3.5,"y":-4},{"k":"d","x":1,"y":-7},{"k":"d","x":-2,"y":-8},{"k":"d","x":-4.5,"y":-6.5},{"k":"d","x":-5.5,"y":-2},{"k":"d","x":-4.5,"y":3},{"k":"d","x":-1.5,"y":7}],
"d13":[{"k":"r","x":1.5,"y":3.5},{"k":"r","x":3.5,"y":2},{"k":"r","x":5,"y":-1.5},{"k":"r","x":4.7,"y":-4.5},{"k":"r","x":2,"y":-6},{"k":"r","x":-0.5,"y":-5.8},{"k":"r","x":-2.5,"y":-3},{"k":"r","x":-3.5,"y":0},{"k":"r","x":-3.7,"y":4.5},{"k":"r","x":-2,"y":4.5},
{"k":"b","x":-2.5,"y":5.5},{"k":"b","x":-1.5,"y":6.4},{"k":"b","x":0,"y":6.2},{"k":"b","x":2,"y":4},{"k":"b","x":3.5,"y":0},{"k":"b","x":3,"y":-4},{"k":"b","x":1.5,"y":-6.5},{"k":"b","x":-0.5,"y":-6.5},{"k":"b","x":-2,"y":-4.5},{"k":"b","x":-2.8,"y":-1},{"k":"b","x":-3,"y":2.5},{"k":"b","x":-2.5,"y":5.5},
{"k":"d","x":-1.5,"y":6.5},{"k":"d","x":0.5,"y":6.3},{"k":"d","x":2.5,"y":3.5},{"k":"d","x":3,"y":-1},{"k":"d","x":2.8,"y":-4.5},{"k":"d","x":1.2,"y":-6.8},{"k":"d","x":-1,"y":-6.3},{"k":"d","x":-2.5,"y":-3.5},{"k":"d","x":-3,"y":0},{"k":"d","x":-2.5,"y":3.5},{"k":"d","x":-1.5,"y":6.5}],
"d21":[{"k":"r","x":-4.5,"y":-1},{"k":"r","x":-3.5,"y":0.5},{"k":"r","x":-1,"y":1},{"k":"r","x":1.5,"y":1.5},{"k":"r","x":3.5,"y":2},{"k":"r","x":2.5,"y":1},{"k":"r","x":0.5,"y":-1},{"k":"r","x":-1,"y":-1.8},{"k":"r","x":-3,"y":-2.5},{"k":"r","x":-4.5,"y":-2},
{"k":"b","x":-5,"y":-0.5},{"k":"b","x":-4,"y":0.5},{"k":"b","x":-2,"y":1},{"k":"b","x":0,"y":1.2},{"k":"b","x":2.5,"y":1.3},{"k":"b","x":5,"y":2},{"k":"b","x":5.5,"y":1.5},{"k":"b","x":4,"y":0},{"k":"b","x":2,"y":-0.8},{"k":"b","x":0,"y":-1.3},{"k":"b","x":-2,"y":-1.6},{"k":"b","x":-4.5,"y":-1.3},{"k":"b","x":-5,"y":-0.5},
{"k":"d","x":-5.5,"y":-1},{"k":"d","x":-4,"y":0.3},{"k":"d","x":-1.5,"y":1.1},{"k":"d","x":1,"y":1.3},{"k":"d","x":4,"y":1.6},{"k":"d","x":5.5,"y":1.8},{"k":"d","x":5,"y":0.5},{"k":"d","x":2.5,"y":-0.5},{"k":"d","x":0,"y":-1.1},{"k":"d","x":-3,"y":-1.5},{"k":"d","x":-5.5,"y":-1}],
"d22":[{"k":"r","x":-6.5,"y":-7.5},{"k":"r","x":-4,"y":-7},{"k":"r","x":-1,"y":-5},{"k":"r","x":1.5,"y":-2},{"k":"r","x":3,"y":1},{"k":"r","x":5,"y":6},{"k":"r","x":4.5,"y":8},{"k":"r","x":3,"y":8},{"k":"r","x":0,"y":6},{"k":"r","x":-3,"y":1},{"k":"r","x":-5,"y":-4},{"k":"r","x":-6.5,"y":-7.5},
{"k":"b","x":-4.5,"y":-6},{"k":"b","x":-5,"y":-2},{"k":"b","x":-3,"y":3},{"k":"b","x":0,"y":6},{"k":"b","x":3,"y":7.5},{"k":"b","x":5,"y":7},{"k":"b","x":5.5,"y":4},{"k":"b","x":4,"y":0},{"k":"b","x":1.5,"y":-4},{"k":"b","x":-1,"y":-6.5},{"k":"b","x":-3.5,"y":-7},{"k":"b","x":-4.5,"y":-6},
{"k":"d","x":-5,"y":-5},{"k":"d","x":-4,"y":-0.5},{"k":"d","x":-1.5,"y":4},{"k":"d","x":1.5,"y":7},{"k":"d","x":4.5,"y":7.5},{"k":"d","x":5.5,"y":5},{"k":"d","x":4.5,"y":0.5},{"k":"d","x":2,"y":-3.5},{"k":"d","x":-0.5,"y":-6.5},{"k":"d","x":-3.5,"y":-7.5},{"k":"d","x":-5,"y":-5}],
"d23":[{"k":"r","x":-3.5,"y":-6},{"k":"r","x":-3,"y":-2},{"k":"r","x":-1,"y":3},{"k":"r","x":1,"y":6.5},{"k":"r","x":3,"y":7.8},{"k":"r","x":4.5,"y":7.5},{"k":"r","x":4,"y":3},{"k":"r","x":2,"y":-2},{"k":"r","x":0,"y":-5.5},{"k":"r","x":-2,"y":-6.5},{"k":"r","x":-3.5,"y":-6},
{"k":"b","x":-3,"y":-6.5},{"k":"b","x":-3.5,"y":-3},{"k":"b","x":-2,"y":2},{"k":"b","x":0,"y":6},{"k":"b","x":2,"y":7.5},{"k":"b","x":3,"y":6.5},{"k":"b","x":2.5,"y":2},{"k":"b","x":1,"y":-3},{"k":"b","x":-1,"y":-6.5},{"k":"b","x":-3,"y":-6.5},
{"k":"d","x":-2.5,"y":-7},{"k":"d","x":-3,"y":-2},{"k":"d","x":-1.5,"y":3},{"k":"d","x":0.5,"y":6.5},{"k":"d","x":2.5,"y":7.5},{"k":"d","x":3,"y":5},{"k":"d","x":2,"y":0},{"k":"d","x":0,"y":-5},{"k":"d","x":-1.5,"y":-7},{"k":"d","x":-2.5,"y":-7}],
"d31":[{"k":"r","x":-6,"y":-0.2},{"k":"r","x":-4,"y":-1.5},{"k":"r","x":0,"y":-2.2},{"k":"r","x":3,"y":-1.8},{"k":"r","x":6,"y":-0.5},{"k":"r","x":6,"y":1},{"k":"r","x":3,"y":2},{"k":"r","x":0,"y":0.7},{"k":"r","x":-3,"y":1},{"k":"r","x":-6,"y":-0.2},
{"k":"b","x":-7.5,"y":0},{"k":"b","x":-5,"y":0.8},{"k":"b","x":-2,"y":1.2},{"k":"b","x":2,"y":1.5},{"k":"b","x":5,"y":1.8},{"k":"b","x":7,"y":1.5},{"k":"b","x":6.5,"y":0},{"k":"b","x":4,"y":-1},{"k":"b","x":0,"y":-1.5},{"k":"b","x":-4,"y":-1.2},{"k":"b","x":-7,"y":-0.8},{"k":"b","x":-7.5,"y":0},
{"k":"d","x":-7,"y":-1.2},{"k":"d","x":-7.5,"y":0.3},{"k":"d","x":-4,"y":1},{"k":"d","x":0,"y":1.5},{"k":"d","x":4,"y":2},{"k":"d","x":7,"y":1.8},{"k":"d","x":7,"y":0.5},{"k":"d","x":5,"y":-0.8},{"k":"d","x":1,"y":-1.3},{"k":"d","x":-3,"y":-1.5},{"k":"d","x":-7,"y":-1.2}],
"d32":[{"k":"r","x":-5,"y":4},{"k":"r","x":-3.5,"y":7.5},{"k":"r","x":0,"y":7},{"k":"r","x":4,"y":3},{"k":"r","x":7,"y":-2},{"k":"r","x":6.5,"y":-7},{"k":"r","x":2,"y":-7},{"k":"r","x":-1,"y":-5},{"k":"r","x":-4,"y":-2},{"k":"r","x":-5.5,"y":1},{"k":"r","x":-5,"y":4},
{"k":"b","x":-7.5,"y":3},{"k":"b","x":-6,"y":6},{"k":"b","x":-3,"y":7.5},{"k":"b","x":0,"y":7},{"k":"b","x":3,"y":4},{"k":"b","x":6,"y":0},{"k":"b","x":7,"y":-3},{"k":"b","x":6,"y":-6},{"k":"b","x":3,"y":-7},{"k":"b","x":0,"y":-6},{"k":"b","x":-3,"y":-4},{"k":"b","x":-6,"y":-1},{"k":"b","x":-7.5,"y":3},
{"k":"d","x":-8,"y":2},{"k":"d","x":-7,"y":5.5},{"k":"d","x":-4,"y":7.5},{"k":"d","x":-1,"y":7.3},{"k":"d","x":2,"y":5},{"k":"d","x":5,"y":2},{"k":"d","x":7.5,"y":-2},{"k":"d","x":7,"y":-6.5},{"k":"d","x":4,"y":-7},{"k":"d","x":0,"y":-5.5},{"k":"d","x":-4,"y":-3},{"k":"d","x":-7,"y":0},{"k":"d","x":-8,"y":2}],
"d33":[{"k":"r","x":-6,"y":7},{"k":"r","x":-4,"y":7.5},{"k":"r","x":-2,"y":4},{"k":"r","x":1,"y":-1},{"k":"r","x":4,"y":-4},{"k":"r","x":5.5,"y":-6.5},{"k":"r","x":4,"y":-7},{"k":"r","x":1,"y":-4},{"k":"r","x":-2,"y":0},{"k":"r","x":-4,"y":3},{"k":"r","x":-6,"y":6},
{"k":"b","x":-6,"y":7},{"k":"b","x":-4.5,"y":7},{"k":"b","x":-2,"y":3},{"k":"b","x":1,"y":-1},{"k":"b","x":4,"y":-5},{"k":"b","x":6,"y":-6.5},{"k":"b","x":5,"y":-7},{"k":"b","x":2,"y":-4},{"k":"b","x":-1,"y":0},{"k":"b","x":-4,"y":3.5},{"k":"b","x":-6,"y":6},{"k":"b","x":-6,"y":7},
{"k":"d","x":-5.5,"y":7.5},{"k":"d","x":-3.5,"y":5},{"k":"d","x":-0.5,"y":1},{"k":"d","x":3,"y":-3},{"k":"d","x":5.5,"y":-5},{"k":"d","x":6,"y":-7},{"k":"d","x":3,"y":-5},{"k":"d","x":0,"y":-1.5},{"k":"d","x":-3,"y":2.5},{"k":"d","x":-5.5,"y":6},{"k":"d","x":-5.5,"y":7.5}]
},
"spacing":54,
"vconcat":[
{"spacing":172,"hconcat":[
{"title":{"text":"(a)","orient":"bottom","anchor":"middle","frame":"bounds","fontSize":18,"offset":47,"dx":5},"columns":3,"spacing":{"row":52,"column":90},"bounds":"flush","concat":[
{"title":"f(xy),p(xy) [N]","data":{"name":"a11"},"encoding":{"x":{"field":"x","type":"quantitative","title":null,"scale":{"domain":[-0.17,0.17]},"axis":{"values":[-0.16,-0.14,-0.12,-0.1,-0.08,-0.06,-0.04,-0.02,0,0.02,0.04,0.06,0.08,0.1,0.12,0.14,0.16]}},"y":{"field":"y","type":"quantitative","title":null,"scale":{"domain":[-0.17,0.17]},"axis":{"values":[-0.16,-0.14,-0.12,-0.1,-0.08,-0.06,-0.04,-0.02,0,0.02,0.04,0.06,0.08,0.1,0.12,0.14,0.16]}}},"layer":[{"data":{"values":[{"x":0,"y":0}]},"mark":{"type":"point","size":2884}},{"mark":"line","encoding":{"color":{"field":"k","type":"nominal","legend":null},"strokeDash":{"field":"k","type":"nominal","legend":null,"scale":{"range":[[1,0],[4,3],[1,0]]}},"order":{"value":null}}}]},
{"title":"f(xy),p(xz) [N]","data":{"name":"a12"},"encoding":{"x":{"field":"x","type":"quantitative","title":null,"scale":{"domain":[-0.3,0.3]},"axis":{"values":[-0.28,-0.24,-0.2,-0.16,-0.12,-0.08,-0.04,0,0.04,0.08,0.12,0.16,0.2,0.24,0.28]}},"y":{"field":"y","type":"quantitative","title":null,"scale":{"domain":[-0.29,0.29]},"axis":{"values":[-0.28,-0.24,-0.2,-0.16,-0.12,-0.08,-0.04,0,0.04,0.08,0.12,0.16,0.2,0.24,0.28]}}},"layer":[{"data":{"values":[{"x":0,"y":0}]},"mark":{"type":"point","size":926}},{"mark":"line","encoding":{"color":{"field":"k","type":"nominal","legend":null},"strokeDash":{"field":"k","type":"nominal","legend":null,"scale":{"range":[[1,0],[4,3],[1,0]]}},"order":{"value":null}}}]},
{"title":{"text":"f(xy),p(yz) [N]","offset":3},"data":{"name":"a13"},"encoding":{"x":{"field":"x","type":"quantitative","title":null,"scale":{"domain":[-0.245,0.245]},"axis":{"values":[-0.24,-0.2,-0.16,-0.12,-0.08,-0.04,0,0.04,0.08,0.12,0.16,0.2,0.24]}},"y":{"field":"y","type":"quantitative","title":null,"scale":{"domain":[-0.228,0.228]},"axis":{"values":[-0.2,-0.16,-0.12,-0.08,-0.04,0,0.04,0.08,0.12,0.16,0.2]}}},"layer":[{"data":{"values":[{"x":0,"y":0}]},"mark":{"type":"point","size":1440}},{"mark":"line","encoding":{"color":{"field":"k","type":"nominal","legend":null},"strokeDash":{"field":"k","type":"nominal","legend":null,"scale":{"range":[[1,0],[4,3],[1,0]]}},"order":{"value":null}}}]},
{"title":"f(xz),p(xy) [N]","data":{"name":"a21"},"encoding":{"x":{"field":"x","type":"quantitative","title":null,"scale":{"domain":[-0.29,0.29]},"axis":{"values":[-0.28,-0.24,-0.2,-0.16,-0.12,-0.08,-0.04,0,0.04,0.08,0.12,0.16,0.2,0.24,0.28]}},"y":{"field":"y","type":"quantitative","title":null,"scale":{"domain":[-0.29,0.29]},"axis":{"values":[-0.28,-0.24,-0.2,-0.16,-0.12,-0.08,-0.04,0,0.04,0.08,0.12,0.16,0.2,0.24,0.28]}}},"layer":[{"data":{"values":[{"x":0,"y":0}]},"mark":{"type":"point","size":991}},{"mark":"line","encoding":{"color":{"field":"k","type":"nominal","legend":null},"strokeDash":{"field":"k","type":"nominal","legend":null,"scale":{"range":[[1,0],[4,3],[1,0]]}},"order":{"value":null}}}]},
{"title":"f(xz),p(xz) [N]","data":{"name":"a22"},"encoding":{"x":{"field":"x","type":"quantitative","title":null,"scale":{"domain":[-0.3,0.3]},"axis":{"values":[-0.28,-0.24,-0.2,-0.16,-0.12,-0.08,-0.04,0,0.04,0.08,0.12,0.16,0.2,0.24,0.28]}},"y":{"field":"y","type":"quantitative","title":null,"scale":{"domain":[-0.3,0.3]},"axis":{"values":[-0.28,-0.24,-0.2,-0.16,-0.12,-0.08,-0.04,0,0.04,0.08,0.12,0.16,0.2,0.24,0.28]}}},"layer":[{"data":{"values":[{"x":0,"y":0}]},"mark":{"type":"point","size":926}},{"mark":"line","encoding":{"color":{"field":"k","type":"nominal","legend":null},"strokeDash":{"field":"k","type":"nominal","legend":null,"scale":{"range":[[1,0],[4,3],[1,0]]}},"order":{"value":null}}}]},
{"title":{"text":"f(xz),p(yz) [N]","offset":3},"data":{"name":"a23"},"encoding":{"x":{"field":"x","type":"quantitative","title":null,"scale":{"domain":[-0.232,0.232]},"axis":{"values":[-0.2,-0.16,-0.12,-0.08,-0.04,0,0.04,0.08,0.12,0.16,0.2]}},"y":{"field":"y","type":"quantitative","title":null,"scale":{"domain":[-0.23,0.23]},"axis":{"values":[-0.2,-0.16,-0.12,-0.08,-0.04,0,0.04,0.08,0.12,0.16,0.2]}}},"layer":[{"data":{"values":[{"x":0,"y":0}]},"mark":{"type":"point","size":1507}},{"mark":"line","encoding":{"color":{"field":"k","type":"nominal","legend":null},"strokeDash":{"field":"k","type":"nominal","legend":null,"scale":{"range":[[1,0],[4,3],[1,0]]}},"order":{"value":null}}}]},
{"title":"f(yz),p(xy) [N]","data":{"name":"a31"},"encoding":{"x":{"field":"x","type":"quantitative","title":null,"scale":{"domain":[-0.245,0.245]},"axis":{"values":[-0.24,-0.2,-0.16,-0.12,-0.08,-0.04,0,0.04,0.08,0.12,0.16,0.2,0.24]}},"y":{"field":"y","type":"quantitative","title":null,"scale":{"domain":[-0.245,0.245]},"axis":{"values":[-0.24,-0.2,-0.16,-0.12,-0.08,-0.04,0,0.04,0.08,0.12,0.16,0.2,0.24]}}},"layer":[{"data":{"values":[{"x":0,"y":0}]},"mark":{"type":"point","size":1385}},{"mark":"line","encoding":{"color":{"field":"k","type":"nominal","legend":null},"strokeDash":{"field":"k","type":"nominal","legend":null,"scale":{"range":[[1,0],[4,3],[1,0]]}},"order":{"value":null}}}]},
{"title":"f(yz),p(xz) [N]","data":{"name":"a32"},"encoding":{"x":{"field":"x","type":"quantitative","title":null,"scale":{"domain":[-0.245,0.245]},"axis":{"values":[-0.24,-0.2,-0.16,-0.12,-0.08,-0.04,0,0.04,0.08,0.12,0.16,0.2,0.24]}},"y":{"field":"y","type":"quantitative","title":null,"scale":{"domain":[-0.245,0.245]},"axis":{"values":[-0.24,-0.2,-0.16,-0.12,-0.08,-0.04,0,0.04,0.08,0.12,0.16,0.2,0.24]}}},"layer":[{"data":{"values":[{"x":0,"y":0}]},"mark":{"type":"point","size":1385}},{"mark":"line","encoding":{"color":{"field":"k","type":"nominal","legend":null},"strokeDash":{"field":"k","type":"nominal","legend":null,"scale":{"range":[[1,0],[4,3],[1,0]]}},"order":{"value":null}}}]},
{"title":"f(yz),p(yz) [N]","data":{"name":"a33"},"encoding":{"x":{"field":"x","type":"quantitative","title":null,"scale":{"domain":[-0.165,0.165]},"axis":{"values":[-0.16,-0.14,-0.12,-0.1,-0.08,-0.06,-0.04,-0.02,0,0.02,0.04,0.06,0.08,0.1,0.12,0.14,0.16]}},"y":{"field":"y","type":"quantitative","title":null,"scale":{"domain":[-0.165,0.165]},"axis":{"values":[-0.16,-0.14,-0.12,-0.1,-0.08,-0.06,-0.04,-0.02,0,0.02,0.04,0.06,0.08,0.1,0.12,0.14,0.16]}}},"layer":[{"data":{"values":[{"x":0,"y":0}]},"mark":{"type":"point","size":3058}},{"mark":"line","encoding":{"color":{"field":"k","type":"nominal","legend":null},"strokeDash":{"field":"k","type":"nominal","legend":null,"scale":{"range":[[1,0],[4,3],[1,0]]}},"order":{"value":null}}}]}
]},
{"title":{"text":"(b)","orient":"bottom","anchor":"middle","frame":"bounds","fontSize":18,"offset":47,"dx":6},"columns":3,"spacing":{"row":52,"column":90},"bounds":"flush","concat":[
{"title":"f(xy),ω(xy) [N]","data":{"name":"b11"},"encoding":{"x":{"field":"x","type":"quantitative","title":null,"scale":{"domain":[-0.175,0.175]},"axis":{"values":[-0.16,-0.14,-0.12,-0.1,-0.08,-0.06,-0.04,-0.02,0,0.02,0.04,0.06,0.08,0.1,0.12,0.14,0.16]}},"y":{"field":"y","type":"quantitative","title":null,"scale":{"domain":[-0.18,0.18]},"axis":{"values":[-0.16,-0.14,-0.12,-0.1,-0.08,-0.06,-0.04,-0.02,0,0.02,0.04,0.06,0.08,0.1,0.12,0.14,0.16]}}},"layer":[{"data":{"values":[{"x":0,"y":0}]},"mark":{"type":"point","size":2570}},{"mark":"line","encoding":{"color":{"field":"k","type":"nominal","legend":null},"strokeDash":{"field":"k","type":"nominal","legend":null,"scale":{"range":[[1,0],[4,3],[1,0]]}},"order":{"value":null}}}]},
{"title":{"text":"f(xy),ω(xz) [N]","offset":-1},"data":{"name":"b12"},"encoding":{"x":{"field":"x","type":"quantitative","title":null,"scale":{"domain":[-0.215,0.215]},"axis":{"values":[-0.2,-0.16,-0.12,-0.08,-0.04,0,0.04,0.08,0.12,0.16,0.2]}},"y":{"field":"y","type":"quantitative","title":null,"scale":{"domain":[-0.21,0.21]},"axis":{"values":[-0.2,-0.16,-0.12,-0.08,-0.04,0,0.04,0.08,0.12,0.16,0.2]}}},"layer":[{"data":{"values":[{"x":0,"y":0}]},"mark":{"type":"point","size":1810}},{"mark":"line","encoding":{"color":{"field":"k","type":"nominal","legend":null},"strokeDash":{"field":"k","type":"nominal","legend":null,"scale":{"range":[[1,0],[4,3],[1,0]]}},"order":{"value":null}}}]},
{"title":"f(xy),ω(yz) [N]","data":{"name":"b13"},"encoding":{"x":{"field":"x","type":"quantitative","title":null,"scale":{"domain":[-0.15,0.15]},"axis":{"values":[-0.14,-0.12,-0.1,-0.08,-0.06,-0.04,-0.02,0,0.02,0.04,0.06,0.08,0.1,0.12,0.14]}},"y":{"field":"y","type":"quantitative","title":null,"scale":{"domain":[-0.155,0.155]},"axis":{"values":[-0.14,-0.12,-0.1,-0.08,-0.06,-0.04,-0.02,0,0.02,0.04,0.06,0.08,0.1,0.12,0.14]}}},"layer":[{"data":{"values":[{"x":0,"y":0}]},"mark":{"type":"point","size":3700}},{"mark":"line","encoding":{"color":{"field":"k","type":"nominal","legend":null},"strokeDash":{"field":"k","type":"nominal","legend":null,"scale":{"range":[[1,0],[4,3],[1,0]]}},"order":{"value":null}}}]},
{"title":"f(xz),ω(xy) [N]","data":{"name":"b21"},"encoding":{"x":{"field":"x","type":"quantitative","title":null,"scale":{"domain":[-0.165,0.165]},"axis":{"values":[-0.16,-0.14,-0.12,-0.1,-0.08,-0.06,-0.04,-0.02,0,0.02,0.04,0.06,0.08,0.1,0.12,0.14,0.16]}},"y":{"field":"y","type":"quantitative","title":null,"scale":{"domain":[-0.165,0.165]},"axis":{"values":[-0.16,-0.14,-0.12,-0.1,-0.08,-0.06,-0.04,-0.02,0,0.02,0.04,0.06,0.08,0.1,0.12,0.14,0.16]}}},"layer":[{"data":{"values":[{"x":0,"y":0}]},"mark":{"type":"point","size":3058}},{"mark":"line","encoding":{"color":{"field":"k","type":"nominal","legend":null},"strokeDash":{"field":"k","type":"nominal","legend":null,"scale":{"range":[[1,0],[4,3],[1,0]]}},"order":{"value":null}}}]},
{"title":"f(xz),ω(xz) [N]","data":{"name":"b22"},"encoding":{"x":{"field":"x","type":"quantitative","title":null,"scale":{"domain":[-0.155,0.155]},"axis":{"values":[-0.14,-0.12,-0.1,-0.08,-0.06,-0.04,-0.02,0,0.02,0.04,0.06,0.08,0.1,0.12,0.14]}},"y":{"field":"y","type":"quantitative","title":null,"scale":{"domain":[-0.15,0.15]},"axis":{"values":[-0.14,-0.12,-0.1,-0.08,-0.06,-0.04,-0.02,0,0.02,0.04,0.06,0.08,0.1,0.12,0.14]}}},"layer":[{"data":{"values":[{"x":0,"y":0}]},"mark":{"type":"point","size":3460}},{"mark":"line","encoding":{"color":{"field":"k","type":"nominal","legend":null},"strokeDash":{"field":"k","type":"nominal","legend":null,"scale":{"range":[[1,0],[4,3],[1,0]]}},"order":{"value":null}}}]},
{"title":"f(xz),ω(yz) [N]","data":{"name":"b23"},"encoding":{"x":{"field":"x","type":"quantitative","title":null,"scale":{"domain":[-0.15,0.15]},"axis":{"values":[-0.14,-0.12,-0.1,-0.08,-0.06,-0.04,-0.02,0,0.02,0.04,0.06,0.08,0.1,0.12,0.14]}},"y":{"field":"y","type":"quantitative","title":null,"scale":{"domain":[-0.155,0.155]},"axis":{"values":[-0.14,-0.12,-0.1,-0.08,-0.06,-0.04,-0.02,0,0.02,0.04,0.06,0.08,0.1,0.12,0.14]}}},"layer":[{"data":{"values":[{"x":0,"y":0}]},"mark":{"type":"point","size":3600}},{"mark":"line","encoding":{"color":{"field":"k","type":"nominal","legend":null},"strokeDash":{"field":"k","type":"nominal","legend":null,"scale":{"range":[[1,0],[4,3],[1,0]]}},"order":{"value":null}}}]},
{"title":"f(yz),ω(xy) [N]","data":{"name":"b31"},"encoding":{"x":{"field":"x","type":"quantitative","title":null,"scale":{"domain":[-0.15,0.15]},"axis":{"values":[-0.14,-0.12,-0.1,-0.08,-0.06,-0.04,-0.02,0,0.02,0.04,0.06,0.08,0.1,0.12,0.14]}},"y":{"field":"y","type":"quantitative","title":null,"scale":{"domain":[-0.15,0.15]},"axis":{"values":[-0.14,-0.12,-0.1,-0.08,-0.06,-0.04,-0.02,0,0.02,0.04,0.06,0.08,0.1,0.12,0.14]}}},"layer":[{"data":{"values":[{"x":0,"y":0}]},"mark":{"type":"point","size":3700}},{"mark":"line","encoding":{"color":{"field":"k","type":"nominal","legend":null},"strokeDash":{"field":"k","type":"nominal","legend":null,"scale":{"range":[[1,0],[4,3],[1,0]]}},"order":{"value":null}}}]},
{"title":{"text":"f(yz),ω(xz) [N]","offset":-2},"data":{"name":"b32"},"encoding":{"x":{"field":"x","type":"quantitative","title":null,"scale":{"domain":[-0.215,0.215]},"axis":{"values":[-0.2,-0.16,-0.12,-0.08,-0.04,0,0.04,0.08,0.12,0.16,0.2]}},"y":{"field":"y","type":"quantitative","title":null,"scale":{"domain":[-0.205,0.205]},"axis":{"values":[-0.2,-0.16,-0.12,-0.08,-0.04,0,0.04,0.08,0.12,0.16,0.2]}}},"layer":[{"data":{"values":[{"x":0,"y":0}]},"mark":{"type":"point","size":1870}},{"mark":"line","encoding":{"color":{"field":"k","type":"nominal","legend":null},"strokeDash":{"field":"k","type":"nominal","legend":null,"scale":{"range":[[1,0],[4,3],[1,0]]}},"order":{"value":null}}}]},
{"title":"f(yz),ω(yz) [N]","data":{"name":"b33"},"encoding":{"x":{"field":"x","type":"quantitative","title":null,"scale":{"domain":[-0.195,0.195]},"axis":{"values":[-0.18,-0.16,-0.14,-0.12,-0.1,-0.08,-0.06,-0.04,-0.02,0,0.02,0.04,0.06,0.08,0.1,0.12,0.14,0.16,0.18]}},"y":{"field":"y","type":"quantitative","title":null,"scale":{"domain":[-0.195,0.195]},"axis":{"values":[-0.18,-0.16,-0.14,-0.12,-0.1,-0.08,-0.06,-0.04,-0.02,0,0.02,0.04,0.06,0.08,0.1,0.12,0.14,0.16,0.18]}}},"layer":[{"data":{"values":[{"x":0,"y":0}]},"mark":{"type":"point","size":2190}},{"mark":"line","encoding":{"color":{"field":"k","type":"nominal","legend":null},"strokeDash":{"field":"k","type":"nominal","legend":null,"scale":{"range":[[1,0],[4,3],[1,0]]}},"order":{"value":null}}}]}
]}
]},
{"spacing":164,"hconcat":[
{"title":{"text":"(c)","orient":"bottom","anchor":"middle","frame":"bounds","fontSize":18,"offset":47,"dx":-3},"columns":3,"spacing":{"row":52,"column":90},"bounds":"flush","concat":[
{"title":"τ(xy),p(xy) [Nmm]","data":{"name":"c11"},"encoding":{"x":{"field":"x","type":"quantitative","title":null,"scale":{"domain":[-9,9]},"axis":{"values":[-9,-8,-7,-6,-5,-4,-3,-2,-1,0,1,2,3,4,5,6,7,8,9]}},"y":{"field":"y","type":"quantitative","title":null,"scale":{"domain":[-9,9]},"axis":{"values":[-9,-8,-7,-6,-5,-4,-3,-2,-1,0,1,2,3,4,5,6,7,8,9]}}},"layer":[{"data":{"values":[{"x":0,"y":0}]},"mark":{"type":"point","size":26}},{"mark":"line","encoding":{"color":{"field":"k","type":"nominal","legend":null},"strokeDash":{"field":"k","type":"nominal","legend":null,"scale":{"range":[[1,0],[4,3],[1,0]]}},"order":{"value":null}}}]},
{"title":"τ(xy),p(xz) [Nmm]","data":{"name":"c12"},"encoding":{"x":{"field":"x","type":"quantitative","title":null,"scale":{"domain":[-7.2,7.2]},"axis":{"values":[-7,-6,-5,-4,-3,-2,-1,0,1,2,3,4,5,6,7]}},"y":{"field":"y","type":"quantitative","title":null,"scale":{"domain":[-7.2,7.2]},"axis":{"values":[-7,-6,-5,-4,-3,-2,-1,0,1,2,3,4,5,6,7]}}},"layer":[{"data":{"values":[{"x":0,"y":0}]},"mark":{"type":"point","size":40}},{"mark":"line","encoding":{"color":{"field":"k","type":"nominal","legend":null},"strokeDash":{"field":"k","type":"nominal","legend":null,"scale":{"range":[[1,0],[4,3],[1,0]]}},"order":{"value":null}}}]},
{"title":{"text":"τ(xy),p(yz) [Nmm]","offset":1},"data":{"name":"c13"},"encoding":{"x":{"field":"x","type":"quantitative","title":null,"scale":{"domain":[-5.5,5.5]},"axis":{"values":[-5,-4,-3,-2,-1,0,1,2,3,4,5]}},"y":{"field":"y","type":"quantitative","title":null,"scale":{"domain":[-5.5,5.5]},"axis":{"values":[-5,-4,-3,-2,-1,0,1,2,3,4,5]}}},"layer":[{"data":{"values":[{"x":0,"y":0}]},"mark":{"type":"point","size":68}},{"mark":"line","encoding":{"color":{"field":"k","type":"nominal","legend":null},"strokeDash":{"field":"k","type":"nominal","legend":null,"scale":{"range":[[1,0],[4,3],[1,0]]}},"order":{"value":null}}}]},
{"title":{"text":"τ(xz),p(xy) [Nmm]","offset":-1},"data":{"name":"c21"},"encoding":{"x":{"field":"x","type":"quantitative","title":null,"scale":{"domain":[-10.5,10.5]},"axis":{"values":[-10,-8,-6,-4,-2,0,2,4,6,8,10]}},"y":{"field":"y","type":"quantitative","title":null,"scale":{"domain":[-10.5,10.5]},"axis":{"values":[-10,-8,-6,-4,-2,0,2,4,6,8,10]}}},"layer":[{"data":{"values":[{"x":0,"y":0}]},"mark":{"type":"point","size":19}},{"mark":"line","encoding":{"color":{"field":"k","type":"nominal","legend":null},"strokeDash":{"field":"k","type":"nominal","legend":null,"scale":{"range":[[1,0],[4,3],[1,0]]}},"order":{"value":null}}}]},
{"title":"τ(xz),p(xz) [Nmm]","data":{"name":"c22"},"encoding":{"x":{"field":"x","type":"quantitative","title":null,"scale":{"domain":[-6.8,6.8]},"axis":{"values":[-6,-5,-4,-3,-2,-1,0,1,2,3,4,5,6]}},"y":{"field":"y","type":"quantitative","title":null,"scale":{"domain":[-6.8,6.8]},"axis":{"values":[-6,-5,-4,-3,-2,-1,0,1,2,3,4,5,6]}}},"layer":[{"data":{"values":[{"x":0,"y":0}]},"mark":{"type":"point","size":45}},{"mark":"line","encoding":{"color":{"field":"k","type":"nominal","legend":null},"strokeDash":{"field":"k","type":"nominal","legend":null,"scale":{"range":[[1,0],[4,3],[1,0]]}},"order":{"value":null}}}]},
{"title":"τ(xz),p(yz) [Nmm]","data":{"name":"c23"},"encoding":{"x":{"field":"x","type":"quantitative","title":null,"scale":{"domain":[-9.5,9.5]},"axis":{"values":[-9,-8,-7,-6,-5,-4,-3,-2,-1,0,1,2,3,4,5,6,7,8,9]}},"y":{"field":"y","type":"quantitative","title":null,"scale":{"domain":[-9.5,9.5]},"axis":{"values":[-9,-8,-7,-6,-5,-4,-3,-2,-1,0,1,2,3,4,5,6,7,8,9]}}},"layer":[{"data":{"values":[{"x":0,"y":0}]},"mark":{"type":"point","size":23}},{"mark":"line","encoding":{"color":{"field":"k","type":"nominal","legend":null},"strokeDash":{"field":"k","type":"nominal","legend":null,"scale":{"range":[[1,0],[4,3],[1,0]]}},"order":{"value":null}}}]},
{"title":"τ(yz),p(xy) [Nmm]","data":{"name":"c31"},"encoding":{"x":{"field":"x","type":"quantitative","title":null,"scale":{"domain":[-7.3,7.3]},"axis":{"values":[-7,-6,-5,-4,-3,-2,-1,0,1,2,3,4,5,6,7]}},"y":{"field":"y","type":"quantitative","title":null,"scale":{"domain":[-7.3,7.3]},"axis":{"values":[-7,-6,-5,-4,-3,-2,-1,0,1,2,3,4,5,6,7]}}},"layer":[{"data":{"values":[{"x":0,"y":0}]},"mark":{"type":"point","size":38}},{"mark":"line","encoding":{"color":{"field":"k","type":"nominal","legend":null},"strokeDash":{"field":"k","type":"nominal","legend":null,"scale":{"range":[[1,0],[4,3],[1,0]]}},"order":{"value":null}}}]},
{"title":"τ(yz),p(xz) [Nmm]","data":{"name":"c32"},"encoding":{"x":{"field":"x","type":"quantitative","title":null,"scale":{"domain":[-5.85,5.85]},"axis":{"values":[-5,-4,-3,-2,-1,0,1,2,3,4,5]}},"y":{"field":"y","type":"quantitative","title":null,"scale":{"domain":[-5.85,5.85]},"axis":{"values":[-5,-4,-3,-2,-1,0,1,2,3,4,5]}}},"layer":[{"data":{"values":[{"x":0,"y":0}]},"mark":{"type":"point","size":61}},{"mark":"line","encoding":{"color":{"field":"k","type":"nominal","legend":null},"strokeDash":{"field":"k","type":"nominal","legend":null,"scale":{"range":[[1,0],[4,3],[1,0]]}},"order":{"value":null}}}]},
{"title":"τ(yz),p(yz) [Nmm]","data":{"name":"c33"},"encoding":{"x":{"field":"x","type":"quantitative","title":null,"scale":{"domain":[-9.5,9.5]},"axis":{"values":[-9,-8,-7,-6,-5,-4,-3,-2,-1,0,1,2,3,4,5,6,7,8,9]}},"y":{"field":"y","type":"quantitative","title":null,"scale":{"domain":[-9.5,9.5]},"axis":{"values":[-9,-8,-7,-6,-5,-4,-3,-2,-1,0,1,2,3,4,5,6,7,8,9]}}},"layer":[{"data":{"values":[{"x":0,"y":0}]},"mark":{"type":"point","size":23}},{"mark":"line","encoding":{"color":{"field":"k","type":"nominal","legend":null},"strokeDash":{"field":"k","type":"nominal","legend":null,"scale":{"range":[[1,0],[4,3],[1,0]]}},"order":{"value":null}}}]}
]},
{"title":{"text":"(d)","orient":"bottom","anchor":"middle","frame":"bounds","fontSize":18,"offset":47,"dx":-3},"columns":3,"spacing":{"row":52,"column":90},"bounds":"flush","concat":[
{"title":"τ(xy),ω(xy) [Nmm]","data":{"name":"d11"},"encoding":{"x":{"field":"x","type":"quantitative","title":null,"scale":{"domain":[-14.3,14.3]},"axis":{"values":[-14,-12,-10,-8,-6,-4,-2,0,2,4,6,8,10,12,14]}},"y":{"field":"y","type":"quantitative","title":null,"scale":{"domain":[-14.3,14.3]},"axis":{"values":[-14,-12,-10,-8,-6,-4,-2,0,2,4,6,8,10,12,14]}}},"layer":[{"data":{"values":[{"x":0,"y":0}]},"mark":{"type":"point","size":10}},{"mark":"line","encoding":{"color":{"field":"k","type":"nominal","legend":null},"strokeDash":{"field":"k","type":"nominal","legend":null,"scale":{"range":[[1,0],[4,3],[1,0]]}},"order":{"value":null}}}]},
{"title":"τ(xy),ω(xz) [Nmm]","data":{"name":"d12"},"encoding":{"x":{"field":"x","type":"quantitative","title":null,"scale":{"domain":[-13.8,13.8]},"axis":{"values":[-12,-10,-8,-6,-4,-2,0,2,4,6,8,10,12]}},"y":{"field":"y","type":"quantitative","title":null,"scale":{"domain":[-13.8,13.8]},"axis":{"values":[-12,-10,-8,-6,-4,-2,0,2,4,6,8,10,12]}}},"layer":[{"data":{"values":[{"x":0,"y":0}]},"mark":{"type":"point","size":11}},{"mark":"line","encoding":{"color":{"field":"k","type":"nominal","legend":null},"strokeDash":{"field":"k","type":"nominal","legend":null,"scale":{"range":[[1,0],[4,3],[1,0]]}},"order":{"value":null}}}]},
{"title":{"text":"τ(xy),ω(yz) [Nmm]","offset":-1},"data":{"name":"d13"},"encoding":{"x":{"field":"x","type":"quantitative","title":null,"scale":{"domain":[-10.5,10.5]},"axis":{"values":[-10,-8,-6,-4,-2,0,2,4,6,8,10]}},"y":{"field":"y","type":"quantitative","title":null,"scale":{"domain":[-10.5,10.5]},"axis":{"values":[-10,-8,-6,-4,-2,0,2,4,6,8,10]}}},"layer":[{"data":{"values":[{"x":0,"y":0}]},"mark":{"type":"point","size":19}},{"mark":"line","encoding":{"color":{"field":"k","type":"nominal","legend":null},"strokeDash":{"field":"k","type":"nominal","legend":null,"scale":{"range":[[1,0],[4,3],[1,0]]}},"order":{"value":null}}}]},
{"title":"τ(xz),ω(xy) [Nmm]","data":{"name":"d21"},"encoding":{"x":{"field":"x","type":"quantitative","title":null,"scale":{"domain":[-9.2,9.2]},"axis":{"values":[-9,-8,-7,-6,-5,-4,-3,-2,-1,0,1,2,3,4,5,6,7,8,9]}},"y":{"field":"y","type":"quantitative","title":null,"scale":{"domain":[-9.2,9.2]},"axis":{"values":[-9,-8,-7,-6,-5,-4,-3,-2,-1,0,1,2,3,4,5,6,7,8,9]}}},"layer":[{"data":{"values":[{"x":0,"y":0}]},"mark":{"type":"point","size":25}},{"mark":"line","encoding":{"color":{"field":"k","type":"nominal","legend":null},"strokeDash":{"field":"k","type":"nominal","legend":null,"scale":{"range":[[1,0],[4,3],[1,0]]}},"order":{"value":null}}}]},
{"title":"τ(xz),ω(xz) [Nmm]","data":{"name":"d22"},"encoding":{"x":{"field":"x","type":"quantitative","title":null,"scale":{"domain":[-13.2,13.2]},"axis":{"values":[-12,-10,-8,-6,-4,-2,0,2,4,6,8,10,12]}},"y":{"field":"y","type":"quantitative","title":null,"scale":{"domain":[-13.2,13.2]},"axis":{"values":[-12,-10,-8,-6,-4,-2,0,2,4,6,8,10,12]}}},"layer":[{"data":{"values":[{"x":0,"y":0}]},"mark":{"type":"point","size":12}},{"mark":"line","encoding":{"color":{"field":"k","type":"nominal","legend":null},"strokeDash":{"field":"k","type":"nominal","legend":null,"scale":{"range":[[1,0],[4,3],[1,0]]}},"order":{"value":null}}}]},
{"title":"τ(xz),ω(yz) [Nmm]","data":{"name":"d23"},"encoding":{"x":{"field":"x","type":"quantitative","title":null,"scale":{"domain":[-12,12]},"axis":{"values":[-12,-10,-8,-6,-4,-2,0,2,4,6,8,10,12]}},"y":{"field":"y","type":"quantitative","title":null,"scale":{"domain":[-12,12]},"axis":{"values":[-12,-10,-8,-6,-4,-2,0,2,4,6,8,10,12]}}},"layer":[{"data":{"values":[{"x":0,"y":0}]},"mark":{"type":"point","size":15}},{"mark":"line","encoding":{"color":{"field":"k","type":"nominal","legend":null},"strokeDash":{"field":"k","type":"nominal","legend":null,"scale":{"range":[[1,0],[4,3],[1,0]]}},"order":{"value":null}}}]},
{"title":{"text":"τ(yz),ω(xy) [Nmm]","offset":3},"data":{"name":"d31"},"encoding":{"x":{"field":"x","type":"quantitative","title":null,"scale":{"domain":[-11.4,11.4]},"axis":{"values":[-10,-8,-6,-4,-2,0,2,4,6,8,10]}},"y":{"field":"y","type":"quantitative","title":null,"scale":{"domain":[-11.4,11.4]},"axis":{"values":[-10,-8,-6,-4,-2,0,2,4,6,8,10]}}},"layer":[{"data":{"values":[{"x":0,"y":0}]},"mark":{"type":"point","size":16}},{"mark":"line","encoding":{"color":{"field":"k","type":"nominal","legend":null},"strokeDash":{"field":"k","type":"nominal","legend":null,"scale":{"range":[[1,0],[4,3],[1,0]]}},"order":{"value":null}}}]},
{"title":"τ(yz),ω(xz) [Nmm]","data":{"name":"d32"},"encoding":{"x":{"field":"x","type":"quantitative","title":null,"scale":{"domain":[-13.9,13.9]},"axis":{"values":[-12,-10,-8,-6,-4,-2,0,2,4,6,8,10,12]}},"y":{"field":"y","type":"quantitative","title":null,"scale":{"domain":[-14,14]},"axis":{"values":[-12,-10,-8,-6,-4,-2,0,2,4,6,8,10,12]}}},"layer":[{"data":{"values":[{"x":0,"y":0}]},"mark":{"type":"point","size":11}},{"mark":"line","encoding":{"color":{"field":"k","type":"nominal","legend":null},"strokeDash":{"field":"k","type":"nominal","legend":null,"scale":{"range":[[1,0],[4,3],[1,0]]}},"order":{"value":null}}}]},
{"title":"τ(yz),ω(yz) [Nmm]","data":{"name":"d33"},"encoding":{"x":{"field":"x","type":"quantitative","title":null,"scale":{"domain":[-14.3,14.3]},"axis":{"values":[-14,-12,-10,-8,-6,-4,-2,0,2,4,6,8,10,12,14]}},"y":{"field":"y","type":"quantitative","title":null,"scale":{"domain":[-14.3,14.3]},"axis":{"values":[-14,-12,-10,-8,-6,-4,-2,0,2,4,6,8,10,12,14]}}},"layer":[{"data":{"values":[{"x":0,"y":0}]},"mark":{"type":"point","size":10}},{"mark":"line","encoding":{"color":{"field":"k","type":"nominal","legend":null},"strokeDash":{"field":"k","type":"nominal","legend":null,"scale":{"range":[[1,0],[4,3],[1,0]]}},"order":{"value":null}}}]}
]}
]}
]
}
